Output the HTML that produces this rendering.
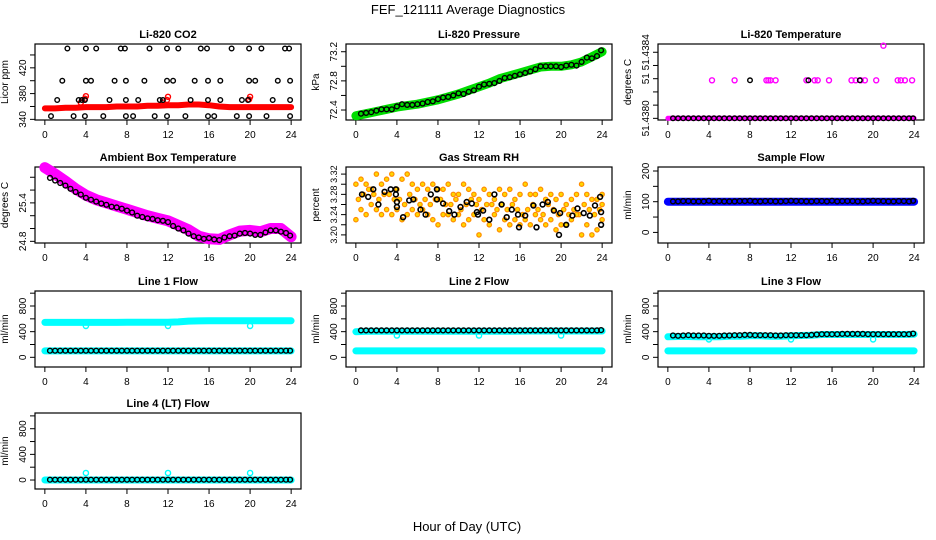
<!DOCTYPE html>
<html><head><meta charset="utf-8"><style>
html,body{margin:0;padding:0;background:#fff;}
svg{display:block;font-family:"Liberation Sans",sans-serif;}
</style></head><body>
<svg id="chart" width="936" height="540" viewBox="0 0 936 540" xmlns="http://www.w3.org/2000/svg">
<text x="468" y="14" text-anchor="middle" font-size="13">FEF_121111  Average Diagnostics</text>
<text x="467" y="531" text-anchor="middle" font-size="13">Hour of Day (UTC)</text>
</svg>
<script>
// ---------- data ----------
var xTicks=[0,4,8,12,16,20,24];
var blackT=[0.5,1,1.5,2,2.5,3,3.5,4,4.5,5,5.5,6,6.5,7,7.5,8,8.5,9,9.5,10,10.5,11,11.5,12,12.5,13,13.5,14,14.5,15,15.5,16,16.5,17,17.5,18,18.5,19,19.5,20,20.5,21,21.5,22,22.5,23,23.5,23.9];
var bandT=[0,1,2,3,4,5,6,7,8,9,10,11,12,13,14,15,16,17,18,19,20,21,22,23,24];
// CO2
var co2BandV=[357,357,358,358,359,359,359,360,360,360,361,361,362,362,363,363,362,360,359,359,359,359,359,359,359];
var co2RedSpikeT=[3.9,4.0,11.9,12.0,19.9,20.0,3.5,11.5];
var co2RedSpikeV=[372,376,370,375,371,375,366,366];
var co2BlackT=[2.2,4,5,7.4,7.8,10.2,11.9,13,15.2,15.8,18.2,19.9,21.1,23.4,23.8, 1.7,4,4.5,6.8,7.9,9.7,11.9,12.5,14.6,15.9,17.1,19.9,20.5,22.7,23.9, 1.2,3.3,3.6,3.9,6.3,7.9,9.1,11.2,11.5,14.2,15.9,17.1,19.2,19.8,22.2,23.9, 0.6,2.8,3.9,5.7,7.9,8.6,10.7,11.9,13.7,15.9,16.5,18.7,19.9,21.6,23.9];
var co2BlackV=[450,450,450,450,450,450,450,450,450,450,450,450,450,450,450, 400,400,400,400,400,400,400,400,400,400,400,400,400,400,400, 370,370,370,370,370,370,370,370,370,370,370,370,370,370,370,370, 345,345,345,345,345,345,345,345,345,345,345,345,345,345,345];
var co2Ticks=[340,360,380,400,420,440];var co2Labels=["340","","380","","420",""];
// Pressure
var presBandV=[72.32,72.35,72.38,72.41,72.44,72.46,72.48,72.51,72.54,72.58,72.62,72.67,72.72,72.77,72.83,72.87,72.91,72.95,72.99,73.0,73.0,73.02,73.06,73.13,73.2];
var presBlackV=[72.35,72.36,72.37,72.39,72.41,72.41,72.41,72.45,72.48,72.47,72.47,72.48,72.49,72.51,72.52,72.55,72.57,72.58,72.60,72.63,72.62,72.65,72.67,72.72,72.75,72.76,72.77,72.80,72.84,72.85,72.87,72.89,72.91,72.93,72.96,73.00,73.00,73.00,73.00,72.99,73.01,73.02,73.01,73.06,73.12,73.11,73.14,73.22];
var presTicks=[72.4,72.6,72.8,73.0,73.2];var presLabels=["72.4","","72.8","","73.2"];
// Li-820 temperature
var tempBaseV=[51.4380,51.4380,51.4380,51.4380,51.4380,51.4380,51.4380,51.4380,51.4380,51.4380,51.4380,51.4380,51.4380,51.4380,51.4380,51.4380,51.4380,51.4380,51.4380,51.4380,51.4380,51.4380,51.4380,51.4380,51.4380];
var tempBlackBaseV=[51.4380,51.4380,51.4380,51.4380,51.4380,51.4380,51.4380,51.4380,51.4380,51.4380,51.4380,51.4380,51.4380,51.4380,51.4380,51.4380,51.4380,51.4380,51.4380,51.4380,51.4380,51.4380,51.4380,51.4380,51.4380,51.4380,51.4380,51.4380,51.4380,51.4380,51.4380,51.4380,51.4380,51.4380,51.4380,51.4380,51.4380,51.4380,51.4380,51.4380,51.4380,51.4380,51.4380,51.4380,51.4380,51.4380,51.4380,51.4380];
var tempMidT=[4.3,6.5,9.6,9.8,10,10.5,13.5,14.3,14.6,15.7,17.9,18.3,18.8,19.2,20.3,22.4,22.7,23.1,23.8];
var tempMidV=[51.43823,51.43823,51.43823,51.43823,51.43823,51.43823,51.43823,51.43823,51.43823,51.43823,51.43823,51.43823,51.43823,51.43823,51.43823,51.43823,51.43823,51.43823,51.43823];
var tempOutT=[21];var tempOutV=[51.43844];
var tempBlkT=[8,13.7,18.7];var tempBlkV=[51.43823,51.43823,51.43823];
var tempTicks=[51.4380,51.43808,51.43816,51.43824,51.43832,51.4384];var tempLabels=["51.4380","","","51","","51.4384"];
// Ambient box temperature
var ambBandV=[25.95,25.85,25.74,25.62,25.52,25.45,25.4,25.35,25.3,25.25,25.2,25.16,25.12,25.05,24.98,24.88,24.84,24.83,24.9,24.96,24.97,24.95,25.0,25.0,24.87];
var ambBlackV=[25.79,25.75,25.71,25.67,25.62,25.57,25.53,25.48,25.45,25.42,25.39,25.37,25.34,25.33,25.31,25.28,25.25,25.20,25.18,25.16,25.15,25.13,25.12,25.10,25.04,25.00,24.97,24.92,24.88,24.86,24.84,24.85,24.83,24.82,24.86,24.88,24.89,24.92,24.93,24.92,24.90,24.90,24.94,24.97,24.97,24.95,24.93,24.89];
var ambTicks=[24.8,25.0,25.2,25.4,25.6,25.8];var ambLabels=["24.8","","","25.4","",""];
// Gas stream RH
var rhT=[0,0.5,1,1.5,2,2.5,3,3.5,4,4.5,5,5.5,6,6.5,7,7.5,8,8.5,9,9.5,10,10.5,11,11.5,12,12.5,13,13.5,14,14.5,15,15.5,16,16.5,17,17.5,18,18.5,19,19.5,20,20.5,21,21.5,22,22.5,23,23.5,24];
var rhT2=[0.25,0.75,1.25,1.75,2.25,2.75,3.25,3.75,4.25,4.75,5.25,5.75,6.25,6.75,7.25,7.75,8.25,8.75,9.25,9.75,10.25,10.75,11.25,11.75,12.25,12.75,13.25,13.75,14.25,14.75,15.25,15.75,16.25,16.75,17.25,17.75,18.25,18.75,19.25,19.75,20.25,20.75,21.25,21.75,22.25,22.75,23.25,23.75,24];
var rhA=[3.30,3.31,3.30,3.29,3.32,3.30,3.31,3.32,3.29,3.31,3.32,3.30,3.29,3.30,3.29,3.30,3.29,3.29,3.30,3.28,3.28,3.30,3.29,3.28,3.27,3.29,3.28,3.27,3.29,3.28,3.29,3.27,3.28,3.30,3.28,3.28,3.29,3.27,3.28,3.27,3.28,3.26,3.27,3.28,3.30,3.28,3.27,3.27,3.28];
var rhB=[3.27,3.28,3.29,3.28,3.27,3.28,3.28,3.27,3.27,3.26,3.28,3.27,3.26,3.27,3.26,3.27,3.27,3.26,3.26,3.27,3.25,3.26,3.27,3.26,3.25,3.26,3.26,3.25,3.26,3.25,3.26,3.25,3.24,3.25,3.26,3.25,3.24,3.26,3.25,3.24,3.25,3.24,3.25,3.24,3.26,3.25,3.24,3.25,3.26];
var rhC=[3.23,3.25,3.24,3.26,3.25,3.24,3.25,3.24,3.25,3.23,3.24,3.25,3.24,3.25,3.24,3.23,3.22,3.24,3.24,3.23,3.24,3.22,3.23,3.24,3.20,3.23,3.22,3.24,3.21,3.23,3.22,3.23,3.22,3.23,3.22,3.24,3.23,3.22,3.23,3.21,3.22,3.22,3.23,3.24,3.20,3.22,3.20,3.21,3.23];
var rhBlackT=[0.6,1.2,1.7,2.2,2.8,3.4,3.9,3.9,4,4,4.6,5.2,5.6,6.3,6.8,7.3,7.9,7.9,8.5,9.1,9.6,10.2,10.8,11.3,11.8,11.9,12.4,13,13.5,14.2,14.7,15.2,15.8,15.9,16.5,17.3,17.6,18.2,18.7,19.3,19.9,19.8,20.5,21.1,21.6,22.2,22.8,23.3,23.8,23.9,23.9];
var rhBlackV=[3.28,3.275,3.29,3.26,3.285,3.29,3.29,3.28,3.265,3.255,3.235,3.268,3.27,3.25,3.24,3.28,3.29,3.27,3.262,3.247,3.24,3.255,3.265,3.262,3.245,3.24,3.248,3.23,3.28,3.26,3.235,3.25,3.24,3.215,3.238,3.258,3.215,3.26,3.265,3.248,3.243,3.20,3.22,3.238,3.252,3.243,3.238,3.258,3.275,3.245,3.22];
var rhTicks=[3.20,3.22,3.24,3.26,3.28,3.30,3.32];var rhLabels=["3.20","","3.24","","3.28","","3.32"];
// Sample flow
var sfBandV=[100,100,100,100,100,100,100,100,100,100,100,100,100,100,100,100,100,100,100,100,100,100,100,100,100];
var sfBlackV=[101,101,102,102,101,101,101,103,101,102,101,101,101,102,102,103,101,101,102,102,101,101,102,103,102,102,101,101,102,102,101,103,101,102,102,102,101,101,102,103,102,102,101,101,102,102,101,103];
var sfTicks=[0,50,100,150,200];var sfLabels=["0","","100","","200"];
// line flows
var flowTicks=[0,200,400,600,800,1000];var flowLabels=["0","","400","","800",""];
var l1UpperV=[545,545,545,545,545,545,545,545,548,548,548,548,548,552,565,568,570,570,570,570,570,570,570,570,570];
var l1LowerV=[100,100,100,100,100,100,100,100,100,100,100,100,100,100,100,100,100,100,100,100,100,100,100,100,100];
var l1BlackV=[103,103,103,103,103,103,103,103,103,103,103,103,103,103,103,103,103,103,103,103,103,103,103,103,103,103,103,103,103,103,103,103,103,103,103,103,103,103,103,103,103,103,103,103,103,103,103,103];
var dipT=[4,12,20];
var l1DipV=[490,490,490];
var l2UpperV=[400,405,405,405,405,405,405,405,405,405,405,405,405,405,405,405,408,410,410,410,410,410,410,410,410];
var l2LowerV=[100,100,100,100,100,100,100,100,100,100,100,100,100,100,100,100,100,100,100,100,100,100,100,100,100];
var l2BlackV=[420,420,420,420,420,420,420,420,420,420,420,420,420,420,420,420,420,420,420,420,420,420,420,420,420,420,420,420,420,420,420,420,420,420,420,420,420,420,420,420,420,420,420,420,420,420,420,425];
var l2DipV=[340,340,340];
var l3UpperV=[320,325,325,320,320,320,330,330,335,335,330,330,335,340,345,355,355,355,355,355,355,355,355,355,360];
var l3LowerV=[100,100,100,100,100,100,100,100,100,100,100,100,100,100,100,100,100,100,100,100,100,100,100,100,100];
var l3BlackV=[340,335,340,345,340,340,340,335,335,335,340,340,345,345,350,350,345,345,345,345,340,340,345,345,345,345,345,350,355,360,360,360,360,365,365,365,365,365,360,360,360,360,360,360,360,360,360,370];
var l3DipV=[280,280,280];
var l4BandV=[0,0,0,0,0,0,0,0,0,0,0,0,0,0,0,0,0,0,0,0,0,0,0,0,0];
var l4BlackV=[5,5,5,5,5,5,5,5,5,5,5,5,5,5,5,5,5,5,5,5,5,5,5,5,5,5,5,5,5,5,5,5,5,5,5,5,5,5,5,5,5,5,5,5,5,5,5,5];
var l4SpikeV=[110,110,110];

// ---------- drawing ----------
var NS="http://www.w3.org/2000/svg";
var svg=document.getElementById('chart');
function mk(tag,attrs,parent){var e=document.createElementNS(NS,tag);for(var k in attrs)e.setAttribute(k,attrs[k]);(parent||svg).appendChild(e);return e;}
var colL=[35,346,658],rowT=[44,167,291,413],W=266,H=76,XD=[-0.96,24.96];

function panel(name,col,row,yd,title,ylab,ticks,labels,lfs){
  var L=colL[col],T=rowT[row];
  var g=mk('g',{});
  
  
  var p={g:g,x:function(v){return L+(v-XD[0])/(XD[1]-XD[0])*W;},y:function(v){return T+H-(v-yd[0])/(yd[1]-yd[0])*H;}};
  var bx=mk('rect',{x:L,y:T,width:W,height:H,fill:'none',stroke:'#000','stroke-width':1.2},g);
  
  
  var t=mk('text',{x:L+W/2,y:T-6,'text-anchor':'middle','font-size':11,'font-weight':'bold'},g);t.textContent=title;
  
  
  var yl=mk('text',{x:0,y:0,'text-anchor':'middle','font-size':10,transform:'translate('+(L-27)+','+(T+H/2)+') rotate(-90)'},g);yl.textContent=ylab;
  
  
  var xa=mk('g',{},g);
  
  
  mk('line',{x1:p.x(0),x2:p.x(24),y1:T+H,y2:T+H,stroke:'#000'},xa);
  xTicks.forEach(function(v){var X=p.x(v);mk('line',{x1:X,x2:X,y1:T+H,y2:T+H+5,stroke:'#000'},xa);
    var tx=mk('text',{x:X,y:T+H+18,'text-anchor':'middle','font-size':10},xa);tx.textContent=v;});
  var ya=mk('g',{},g);
  
  
  ticks.forEach(function(v,i){var Y=p.y(v);mk('line',{x1:L,x2:L-5,y1:Y,y2:Y,stroke:'#000'},ya);
    if(labels[i]){var tx=mk('text',{x:0,y:0,'text-anchor':'middle','font-size':lfs||10,transform:'translate('+(L-9)+','+Y+') rotate(-90)'},ya);tx.textContent=labels[i];}});
  mk('line',{x1:L,x2:L,y1:p.y(ticks[0]),y2:p.y(ticks[ticks.length-1]),stroke:'#000'},ya);
  return p;
}
function band(p,xs,vs,color,w,name){
  var pts=xs.map(function(x,i){return p.x(x).toFixed(1)+','+p.y(vs[i]).toFixed(1);}).join(' ');
  var e=mk('polyline',{points:pts,fill:'none',stroke:color,'stroke-width':w,'stroke-linecap':'round','stroke-linejoin':'round'},p.g);
  
  
}
function pts(p,xs,vs,color,r,name,fill,sw){
  var gg=mk('g',{},p.g);
  
  
  xs.forEach(function(x,i){mk('circle',{cx:p.x(x).toFixed(1),cy:p.y(vs[i]).toFixed(1),r:r,fill:fill||'none',stroke:color,'stroke-width':sw||1.4},gg);});
}

var p;
p=panel('co2',0,0,[339,457],'Li-820 CO2','Licor ppm',co2Ticks,co2Labels);
band(p,bandT,co2BandV,'#ff0000',6,'co2-red-series');
pts(p,co2RedSpikeT,co2RedSpikeV,'#ff0000',2.5,'co2-red-spikes');
pts(p,co2BlackT,co2BlackV,'#000',2.3,'co2-black-points');

p=panel('pressure',1,0,[72.263,73.306],'Li-820 Pressure','kPa',presTicks,presLabels);
band(p,bandT,presBandV,'#00dd00',9,'pressure-green-series');
pts(p,blackT,presBlackV,'#000',2.4,'pressure-black-points');

p=panel('temperature',2,0,[51.43799,51.43845],'Li-820 Temperature','degrees C',tempTicks,tempLabels);
band(p,bandT,tempBaseV,'#ff00ff',5,'temperature-magenta-base');
pts(p,tempMidT,tempMidV,'#ff00ff',2.5,'temperature-magenta-points');
pts(p,tempOutT,tempOutV,'#ff00ff',2.5,'temperature-outlier');
pts(p,tempBlkT,tempBlkV,'#000',2.3,'temperature-black-mid');
pts(p,blackT,tempBlackBaseV,'#000',2.3,'temperature-black-points');

p=panel('ambient',0,1,[24.774,25.96],'Ambient Box Temperature','degrees C',ambTicks,ambLabels);
band(p,bandT,ambBandV,'#ff00ff',11,'ambient-magenta-series');
pts(p,blackT,ambBlackV,'#000',2.4,'ambient-black-points');

p=panel('rh',1,1,[3.184,3.334],'Gas Stream RH','percent',rhTicks,rhLabels,9);
pts(p,rhT,rhA,'#ff8c00',2.2,'rh-series-a','#ffd700',1.2);
pts(p,rhT2,rhB,'#ff8c00',2.2,'rh-series-b','#ffd700',1.2);
pts(p,rhT,rhC,'#ff8c00',2.2,'rh-series-c','#ffd700',1.2);
pts(p,rhBlackT,rhBlackV,'#000',2.4,'rh-black-points',null,1.6);

p=panel('sample-flow',2,1,[-34.5,213],'Sample Flow','ml/min',sfTicks,sfLabels);
band(p,bandT,sfBandV,'#0000ff',8,'sample-flow-blue-series');
pts(p,blackT,sfBlackV,'#000',2.4,'sample-flow-black-points');

var FD=[-151,1034];
p=panel('line1',0,2,FD,'Line 1 Flow','ml/min',flowTicks,flowLabels);
band(p,bandT,l1UpperV,'#00ffff',7,'line1-cyan-upper');
band(p,bandT,l1LowerV,'#00ffff',7,'line1-cyan-lower');
pts(p,dipT,l1DipV,'#00ffff',2.6,'line1-cyan-dips');
pts(p,blackT,l1BlackV,'#000',2.4,'line1-black-points');

p=panel('line2',1,2,FD,'Line 2 Flow','ml/min',flowTicks,flowLabels);
band(p,bandT,l2UpperV,'#00ffff',7,'line2-cyan-upper');
band(p,bandT,l2LowerV,'#00ffff',7,'line2-cyan-lower');
pts(p,dipT,l2DipV,'#00ffff',2.6,'line2-cyan-dips');
pts(p,blackT,l2BlackV,'#000',2.4,'line2-black-points');

p=panel('line3',2,2,FD,'Line 3 Flow','ml/min',flowTicks,flowLabels);
band(p,bandT,l3UpperV,'#00ffff',7,'line3-cyan-upper');
band(p,bandT,l3LowerV,'#00ffff',7,'line3-cyan-lower');
pts(p,dipT,l3DipV,'#00ffff',2.6,'line3-cyan-dips');
pts(p,blackT,l3BlackV,'#000',2.4,'line3-black-points');

p=panel('line4',0,3,[-140,1045],'Line 4 (LT) Flow','ml/min',flowTicks,flowLabels);
band(p,bandT,l4BandV,'#00ffff',7,'line4-cyan-series');
pts(p,dipT,l4SpikeV,'#00ffff',2.6,'line4-cyan-spikes');
pts(p,blackT,l4BlackV,'#000',2.4,'line4-black-points');
</script>
</body></html>
